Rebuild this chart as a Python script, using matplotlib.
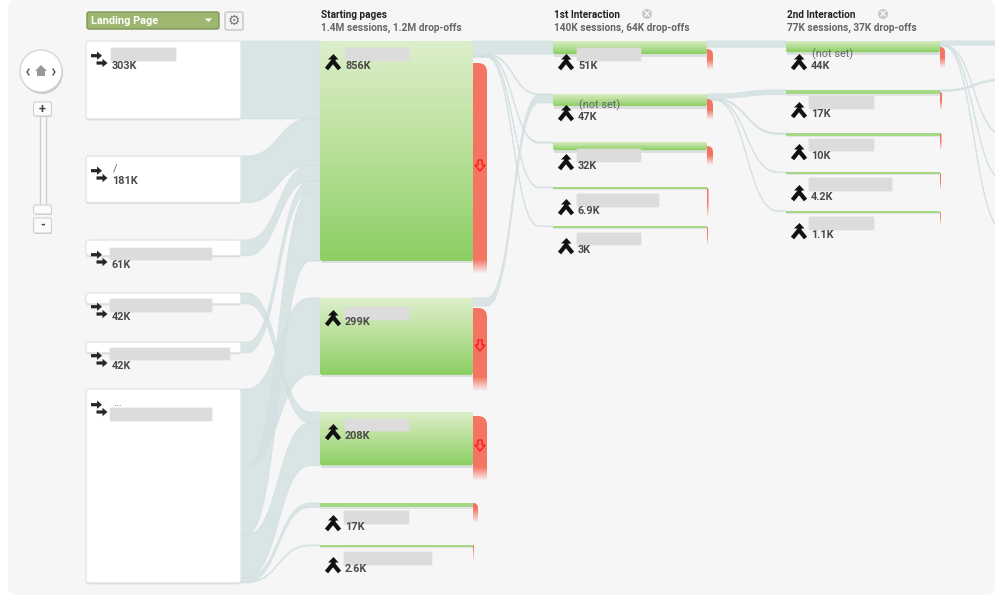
import numpy as np
import matplotlib
matplotlib.use("Agg")
import matplotlib.pyplot as plt
from matplotlib.patches import FancyBboxPatch, Rectangle, Circle, PathPatch, Polygon
from matplotlib.path import Path
from matplotlib.colors import LinearSegmentedColormap

# ---------- data (K sessions) ----------
landing_values = [303, 181, 61, 42, 42, 754]
landing_names = ["", "/", "", "", "", "..."]
landing_labels = ["303K", "181K", "61K", "42K", "42K", ""]

start_values = [856, 299, 208, 17, 2.6]
start_labels = ["856K", "299K", "208K", "17K", "2.6K"]
start_names = ["", "", "", "", ""]
start_drops = [760, 260, 190, 14, 2.2]

first_values = [51, 47, 32, 6.9, 3]
first_labels = ["51K", "47K", "32K", "6.9K", "3K"]
first_names = ["", "(not set)", "", "", ""]

second_values = [44, 17, 10, 4.2, 1.1]
second_labels = ["44K", "17K", "10K", "4.2K", "1.1K"]
second_names = ["(not set)", "", "", "", ""]

# links: (source index, target index, value)
links_landing_start = [(0, 0, 303), (1, 0, 181), (2, 0, 61), (4, 0, 42),
                       (5, 1, 299), (5, 0, 269), (3, 2, 42), (5, 2, 166),
                       (5, 3, 17), (5, 4, 2.6)]
links_start_first = [(0, 0, 51), (0, 1, 3), (0, 2, 4), (0, 3, 3), (0, 4, 2), (1, 1, 31)]
links_first_second = [(0, 0, 24), (1, 1, 17), (1, 2, 5), (1, 3, 2), (1, 4, 1)]
links_second_third = [(0, 0, 16), (0, 2, 2), (0, 3, 1.5), (0, 4, 1.2), (1, 1, 5)]

column_titles = ["Starting pages", "1st Interaction", "2nd Interaction"]
column_subtitles = ["1.4M sessions, 1.2M drop-offs", "140K sessions, 64K drop-offs",
                    "77K sessions, 37K drop-offs"]
dropdown_label = "Landing Page"

# ---------- layout (pixels) ----------
plt.rcParams["font.family"] = ["Roboto", "DejaVu Sans"]
SCALE = 0.257  # px per K
BG = "#f6f6f6"
FLOW = "#d3e0e2"

land_x, land_w = 86, 155
start_x, start_w = 320, 153
first_x, first_w = 553, 154
second_x, second_w = 786, 154
third_x = 1010

land_tops = [41, 156, 240, 293, 342, 389]
start_tops = [41, 298, 412, 503, 545]
first_tops = [41, 94, 142, 187, 226]
second_tops = [41, 90, 133, 172, 211]
third_tops = [41, 79, 135, 180, 230]

land_text_y = [66, 181, 265, 317, 366, 403]
land_blur = [(111, 176, 48, 61), None, (110, 212, 248, 260), (110, 212, 299, 312),
             (110, 230, 348, 360), (110, 212, 408, 421)]
land_icon_y = [60, 175, 259, 311, 360, 409]
start_text_y = [66, 322, 436, 527, 569]
start_blur = [(345, 409, 48, 61), (345, 409, 307, 320), (345, 409, 419, 431),
              (344, 409, 511, 524), (344, 432, 552, 565)]
first_text_y = [66, 117, 166, 211, 250]
first_blur = [(577, 641, 48, 61), None, (577, 641, 149, 162), (577, 659, 194, 207),
              (577, 641, 233, 245)]
second_text_y = [66, 114, 156, 197, 235]
second_blur = [None, (809, 874, 96, 109), (809, 874, 139, 151), (809, 892, 178, 191),
               (809, 874, 217, 230)]

start_drop_tops = [63, 308, 416, 503, 545]
start_drop_w = [14, 14, 14, 5, 1]
first_drop_tops = [49, 99, 146, 188, 227]
first_drop_h = [21, 21, 19, 30, 18]
first_drop_w = [6, 6, 6, 1.5, 1]
second_drop_tops = [47, 92, 133, 173, 212]
second_drop_h = [21, 18, 17, 17, 13]
second_drop_w = [5, 2, 1.5, 1, 0.8]

fig = plt.figure(figsize=(10, 6.09), dpi=100, facecolor="white")
ax = fig.add_axes([0, 0, 1, 1])
ax.set_xlim(0, 1000)
ax.set_ylim(609, 0)
ax.axis("off")

panel = FancyBboxPatch((8, 0), 987, 595, boxstyle="round,pad=0,rounding_size=9",
                       fc=BG, ec="none", zorder=0)
ax.add_patch(panel)

green_cm = LinearSegmentedColormap.from_list("g", ["#dcefcb", "#c5e4a8", "#a9da88", "#8ccf63"])
red_cm = LinearSegmentedColormap.from_list("r", ["#f37562", BG])


def gradient(x0, y0, x1, y1, cmap, clip, z, g=None):
    if g is None:
        g = np.linspace(0, 1, 128)
    im = ax.imshow(g.reshape(-1, 1), cmap=cmap, extent=(x0, x1, y1, y0), aspect="auto", zorder=z,
                   vmin=0, vmax=1, interpolation="bilinear")
    im.set_clip_path(clip)


def ribbon(x0, a0, b0, x1, a1, b1, pad0=0.0, pad1=0.0, clip=None):
    sx = x0 + pad0
    ex = x1 - pad1
    m = (sx + ex) / 2
    verts = [(x0, a0), (sx, a0), (m, a0), (m, a1), (ex, a1), (x1, a1),
             (x1, b1), (ex, b1), (m, b1), (m, b0), (sx, b0), (x0, b0), (x0, a0)]
    codes = [Path.MOVETO, Path.LINETO, Path.CURVE4, Path.CURVE4, Path.CURVE4, Path.LINETO,
             Path.LINETO, Path.LINETO, Path.CURVE4, Path.CURVE4, Path.CURVE4, Path.LINETO,
             Path.CLOSEPOLY]
    p = PathPatch(Path(verts, codes), fc=FLOW, ec=FLOW, lw=0.8, alpha=0.82, zorder=1)
    ax.add_patch(p)
    if clip is not None:
        p.set_clip_path(clip)


def draw_links(links, xs, src_tops, xt, tgt_tops, pad0, pad1, clip=None):
    sc = list(src_tops)
    tc = list(tgt_tops)
    for s, t, v in links:
        h = v * SCALE
        ribbon(xs, sc[s], sc[s] + h, xt, tc[t], tc[t] + h, pad0, pad1, clip)
        sc[s] += h
        tc[t] += h


def blur(b):
    if b is None:
        return
    x0, x1, y0, y1 = b
    for grow, a in ((1.0, 0.35), (0.0, 1.0)):
        ax.add_patch(FancyBboxPatch((x0 - grow, y0 - grow), x1 - x0 + 2 * grow, y1 - y0 + 2 * grow,
                                    boxstyle="round,pad=0,rounding_size=1.5",
                                    fc="#dcdcdc", ec="none", alpha=a, zorder=6))


def arrows_icon(x, y):
    for dx, dy in ((0, -4.3), (5.5, 3)):
        ax.add_patch(Polygon([(x + dx, y + dy - 1.6), (x + dx + 6, y + dy - 1.6), (x + dx + 6, y + dy - 4.2),
                              (x + dx + 11, y + dy), (x + dx + 6, y + dy + 4.2), (x + dx + 6, y + dy + 1.6),
                              (x + dx, y + dy + 1.6)], fc="#262626", ec="none", zorder=7))


def merge_icon(x, y):
    kw = dict(color="#111111", lw=3, solid_capstyle="butt", zorder=7)
    ax.plot([x - 6.5, x, x + 6.5], [y + 7, y - 1, y + 7], **kw)
    ax.plot([x, x + 1], [y - 1, y - 4], **kw)
    ax.add_patch(Polygon([(x - 5, y - 2.5), (x + 0.5, y - 8), (x + 5.5, y - 2.5)], fc="#111111", ec="none", zorder=7))


def green_node(x, top, w, value):
    h = max(value * SCALE, 1.5)
    if h > 6:
        ax.add_patch(Rectangle((x + 1, top + h), w - 1, 2.5, fc="#dbdfe2", ec="none", zorder=3))
        patch = FancyBboxPatch((x, top), w, h, boxstyle="round,pad=0,rounding_size=2.5",
                               fc="#a4d884", ec="none", zorder=4)
        ax.add_patch(patch)
        gradient(x, top, x + w, top + h, green_cm, patch, 5)
    else:
        ax.add_patch(Rectangle((x, top + h), w, 1.5, fc="#e0e4e6", ec="none", zorder=3))
        ax.add_patch(Rectangle((x, top), w, h, fc="#a4d884", ec="none", zorder=4))


def drop(x, top, w, h, tail):
    # rounded only on the outer top corner: the box starts left of the clipped image
    rad = min(w, 9)
    patch = FancyBboxPatch((x - rad, top), w + rad, h + rad,
                           boxstyle=f"round,pad=0,rounding_size={rad}",
                           fc="none", ec="none", zorder=2)
    ax.add_patch(patch)
    pos = np.linspace(0, h, 200)
    g = np.clip((pos - (h - tail)) / tail, 0, 1)
    gradient(x, top, x + w, top + h, red_cm, patch, 2, g)


def label(x, y, name, val):
    if name:
        ax.text(x + 1, y - 12, name, fontsize=7.8, color="#666666", va="center", zorder=8)
    ax.text(x, y, val, fontsize=7.8, color="#4a4a4a", fontweight="bold", va="center", zorder=8)


def down_arrow(x, y):
    ax.add_patch(Polygon([(x - 2, y - 5), (x + 2, y - 5), (x + 2, y), (x + 5, y), (x, y + 6), (x - 5, y), (x - 2, y)],
                         fc="none", ec="#ff1a1a", lw=1, zorder=7))


# ---------- flows ----------
draw_links(links_landing_start, land_x + land_w, land_tops, start_x, start_tops, 6, 10)
draw_links(links_start_first, start_x + start_w, start_tops, first_x, first_tops, 14, 14)
draw_links(links_first_second, first_x + first_w, first_tops, second_x, second_tops, 8, 8)
draw_links(links_second_third, second_x + second_w, second_tops, third_x, third_tops, 4, 6, clip=panel)

# ---------- landing nodes ----------
for i, v in enumerate(landing_values):
    h = v * SCALE
    ax.add_patch(FancyBboxPatch((land_x, land_tops[i]), land_w, h + 1.5,
                                boxstyle="round,pad=0,rounding_size=2.5",
                                fc="#d4d8da", ec="none", zorder=3))
    ax.add_patch(FancyBboxPatch((land_x, land_tops[i]), land_w, h,
                                boxstyle="round,pad=0,rounding_size=2.5",
                                fc="white", ec="#dfe7e9", lw=1, zorder=4))
    arrows_icon(91, land_icon_y[i])
    blur(land_blur[i])
    if i == 5:
        ax.text(113, land_text_y[i], landing_names[i], fontsize=7.8, color="#666666", va="center", zorder=8)
    else:
        label(112, land_text_y[i], landing_names[i], landing_labels[i])

# ---------- columns ----------
for i, v in enumerate(start_values):
    green_node(start_x, start_tops[i], start_w, v)
    drop(start_x + start_w, start_drop_tops[i], start_drop_w[i], start_drops[i] * SCALE + 16, 14)
    merge_icon(333, start_text_y[i] - 4)
    blur(start_blur[i])
    label(345, start_text_y[i], start_names[i], start_labels[i])
    if i < 3:
        down_arrow(480, start_drop_tops[i] + [102, 37, 29][i])

for i, v in enumerate(first_values):
    green_node(first_x, first_tops[i], first_w, v)
    drop(first_x + first_w, first_drop_tops[i], first_drop_w[i], first_drop_h[i], first_drop_h[i] * 0.5)
    merge_icon(566, first_text_y[i] - 4)
    blur(first_blur[i])
    label(578, first_text_y[i], first_names[i], first_labels[i])

for i, v in enumerate(second_values):
    green_node(second_x, second_tops[i], second_w, v)
    drop(second_x + second_w, second_drop_tops[i], second_drop_w[i], second_drop_h[i], second_drop_h[i] * 0.5)
    merge_icon(799, second_text_y[i] - 4)
    blur(second_blur[i])
    label(811, second_text_y[i], second_names[i], second_labels[i])

# ---------- headers ----------
for x, title, sub in zip((321, 554, 787), column_titles, column_subtitles):
    ax.text(x, 14.5, title, fontsize=7.2, color="#222222", fontweight="bold", va="center", zorder=8)
    ax.text(x, 28, sub, fontsize=7.3, color="#666666", fontweight="bold", va="center", zorder=8)
for cx in (647, 883):
    ax.add_patch(Circle((cx, 14), 5, fc="#c8c8c8", ec="none", zorder=8))
    ax.text(cx, 14, "×", fontsize=7, color="white", ha="center", va="center", zorder=9,
            fontweight="bold", family="DejaVu Sans")

# ---------- controls ----------
ax.add_patch(FancyBboxPatch((87, 12), 132, 17, boxstyle="round,pad=0,rounding_size=2",
                            fc="#9db670", ec="#7d9656", lw=1, zorder=5))
ax.text(91, 20.5, dropdown_label, fontsize=7.8, color="white", fontweight="bold", va="center", zorder=8)
ax.add_patch(Polygon([(205, 18.5), (212, 18.5), (208.5, 22)], fc="white", ec="none", zorder=8))
ax.add_patch(FancyBboxPatch((225, 12), 18, 18, boxstyle="round,pad=0,rounding_size=2",
                            fc="#f4f4f4", ec="#c6c6c6", lw=1, zorder=5))
ax.text(234, 20.5, "\u2699", fontsize=10, color="#777777", ha="center", va="center", zorder=8,
        family="DejaVu Sans")

ax.add_patch(Circle((42, 73), 21, fc="#c8c8c8", ec="none", zorder=4))
ax.add_patch(Circle((41, 71), 21, fc="white", ec="#d6d6d6", lw=1, zorder=5))
ax.add_patch(Polygon([(41, 65), (47, 71), (45, 71), (45, 76), (37, 76), (37, 71), (35, 71)],
                     fc="#999999", ec="none", zorder=6))
ax.plot([29, 27, 29], [69, 72, 75], color="#555555", lw=1, zorder=6)
ax.plot([53, 55, 53], [69, 72, 75], color="#555555", lw=1, zorder=6)

ax.add_patch(Rectangle((40, 115), 6, 98, fc="#f8f8f8", ec="#cfcfcf", lw=1, zorder=3))
for y0, h in ((102, 14), (205, 9), (218, 15)):
    ax.add_patch(FancyBboxPatch((34, y0 + 1), 18, h, boxstyle="round,pad=0,rounding_size=2",
                                fc="#c9c9c9", ec="none", zorder=4))
    ax.add_patch(FancyBboxPatch((33.5, y0), 18, h, boxstyle="round,pad=0,rounding_size=2",
                                fc="#fbfbfb", ec="#d2d2d2", lw=0.8, zorder=5))
ax.text(42, 109, "+", fontsize=9, color="#444444", ha="center", va="center", zorder=6, fontweight="bold")
ax.text(42.5, 225.5, "-", fontsize=9, color="#444444", ha="center", va="center", zorder=6, fontweight="bold")

ax.set_xlim(0, 1000)
ax.set_ylim(609, 0)
fig.savefig("out.png", dpi=100, facecolor="white")
